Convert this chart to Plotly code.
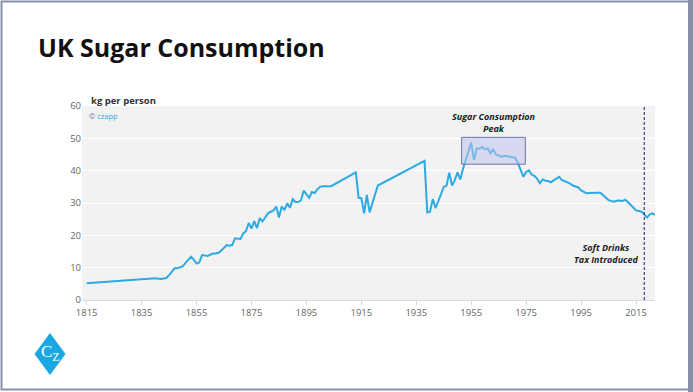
import plotly.graph_objects as go

years = [1815, 1840, 1842, 1844, 1845, 1847, 1848, 1850, 1851, 1852, 1853, 1854, 1855, 1856,
         1857, 1858, 1859, 1860, 1861, 1862, 1863, 1864, 1865, 1866, 1867, 1868, 1869, 1870,
         1871, 1872, 1873, 1874, 1875, 1876, 1877, 1878, 1879, 1880, 1881, 1882, 1883, 1884,
         1885, 1886, 1887, 1888, 1889, 1890, 1891, 1892, 1893, 1894, 1895, 1896, 1897, 1898,
         1899, 1900, 1901, 1904, 1913, 1914, 1915, 1916, 1917, 1918, 1921, 1938, 1939, 1940,
         1941, 1942, 1943, 1944, 1945, 1946, 1947, 1948, 1949, 1950, 1951, 1952, 1953, 1954,
         1955, 1956, 1957, 1958, 1959, 1960, 1961, 1962, 1963, 1964, 1965, 1966, 1967, 1968,
         1969, 1970, 1971, 1972, 1973, 1974, 1975, 1976, 1977, 1978, 1979, 1980, 1981, 1982,
         1983, 1984, 1985, 1986, 1987, 1988, 1989, 1990, 1991, 1992, 1993, 1994, 1995, 1996,
         1997, 1998, 1999, 2000, 2001, 2002, 2003, 2004, 2005, 2006, 2007, 2008, 2009, 2010,
         2011, 2012, 2013, 2014, 2015, 2016, 2017, 2018, 2019, 2020, 2021, 2022]
kg_per_person = [5.2, 6.7, 6.5, 6.8, 7.7, 9.8, 9.8, 10.5, 11.5, 12.3, 13.4, 12.5, 11.3, 11.6,
                 13.9, 13.8, 13.6, 14.0, 14.4, 14.4, 14.6, 15.3, 16.3, 17.0, 16.8, 17.0, 19.1, 19.0,
                 18.9, 20.6, 21.3, 23.8, 22.1, 24.4, 22.2, 25.3, 24.3, 25.5, 26.8, 27.3, 27.7, 28.9,
                 25.5, 28.9, 27.8, 29.9, 28.5, 31.2, 30.3, 30.3, 30.8, 33.8, 32.8, 31.6, 33.4, 33.1,
                 34.3, 35.0, 35.2, 35.2, 39.5, 31.6, 31.5, 26.8, 32.5, 27.1, 35.4, 43.0, 27.1, 27.3,
                 31.2, 28.4, 30.5, 32.5, 35.0, 35.3, 39.4, 35.4, 37.0, 39.5, 37.3, 40.5, 43.3, 46.0,
                 48.7, 43.3, 46.9, 46.8, 47.4, 46.5, 46.9, 45.4, 46.5, 45.0, 44.6, 44.3, 44.6, 44.5,
                 44.3, 44.1, 44.0, 42.3, 40.0, 38.1, 39.6, 40.1, 38.8, 38.4, 37.5, 36.1, 37.3, 36.9,
                 36.8, 36.4, 37.0, 37.6, 38.1, 37.1, 36.8, 36.4, 36.0, 35.4, 35.2, 34.8, 33.9, 33.5,
                 33.0, 33.1, 33.2, 33.2, 33.2, 33.2, 32.5, 31.6, 30.9, 30.6, 30.4, 30.7, 30.8, 30.6,
                 31.0, 30.3, 29.4, 28.5, 27.7, 27.5, 27.3, 26.5, 25.5, 26.5, 26.8, 26.3]

x_ticks = [1815, 1835, 1855, 1875, 1895, 1915, 1935, 1955, 1975, 1995, 2015]
y_ticks = [0, 10, 20, 30, 40, 50, 60]
peak_box_years = [1951.5, 1974.7]
peak_box_kg = [42.0, 50.3]
tax_year = 2018

W, H = 693, 392
L, R, T, B = 82, 655, 106, 300


def px(x):
    return (x - L) / (R - L)


def py(y):
    return (B - y) / (B - T)


fig = go.Figure()
fig.add_trace(go.Scatter(x=years, y=kg_per_person, mode="lines",
                         line=dict(color="#2eaae2", width=2), hoverinfo="skip"))

font_main = "Open Sans, Noto Sans, sans-serif"

shapes = [
    # frame
    dict(type="rect", xref="paper", yref="paper", x0=px(1.5), x1=px(689), y0=py(1.5), y1=py(389.5),
         line=dict(color="#8a8fa8", width=2), fillcolor="rgba(0,0,0,0)", layer="below"),
    dict(type="rect", xref="paper", yref="paper", x0=px(688), x1=px(693), y0=py(0), y1=py(392),
         line=dict(width=0), fillcolor="#8a8fa8"),
    # peak box
    dict(type="rect", xref="x", yref="y", x0=peak_box_years[0], x1=peak_box_years[1],
         y0=peak_box_kg[0], y1=peak_box_kg[1],
         line=dict(color="#6f74a8", width=1), fillcolor="rgba(190,194,235,0.55)"),
    # tax line
    dict(type="line", xref="x", yref="paper", x0=tax_year, x1=tax_year, y0=0, y1=1,
         line=dict(color="#3b3f80", width=1.2, dash="3px,2px")),
    # logo diamond
    dict(type="path", xref="paper", yref="paper",
         path=f"M {px(50)} {py(333)} L {px(65.5)} {py(354)} L {px(50)} {py(375)} L {px(34.5)} {py(354)} Z",
         fillcolor="#1ba7e1", line=dict(width=0)),
]

annotations = [
    dict(text="<b>UK Sugar Consumption</b>", xref="paper", yref="paper", x=px(36), y=py(47),
         xanchor="left", yanchor="middle", showarrow=False,
         font=dict(family=font_main, size=25, color="#111111")),
    dict(text="<b>kg per person</b>", xref="paper", yref="paper", x=px(89), y=py(100),
         xanchor="left", yanchor="middle", showarrow=False,
         font=dict(family=font_main, size=9.5, color="#333333")),
    dict(text="<span style='color:#6a6a9a'>©</span> czapp", xref="paper", yref="paper", x=px(87), y=py(116),
         xanchor="left", yanchor="middle", showarrow=False,
         font=dict(family=font_main, size=7.5, color="#2aa9e0")),
    dict(text="<b><i>Sugar Consumption<br>Peak</i></b>", xref="x", yref="paper",
         x=sum(peak_box_years) / 2, y=py(122), xanchor="center", yanchor="middle", showarrow=False,
         font=dict(family=font_main, size=9, color="#222222")),
    dict(text="<b><i>Soft Drinks<br>Tax Introduced</i></b>", xref="paper", yref="paper",
         x=px(606), y=py(253.5), xanchor="center", yanchor="middle", showarrow=False,
         font=dict(family=font_main, size=9, color="#222222")),
    dict(text="C<sub>Z</sub>", xref="paper", yref="paper", x=px(50.5), y=py(353), xanchor="center",
         yanchor="middle", showarrow=False,
         font=dict(family="Liberation Serif, serif", size=17, color="white")),
]

fig.update_layout(
    width=W, height=H,
    margin=dict(l=L, r=W - R, t=T, b=H - B),
    paper_bgcolor="white", plot_bgcolor="#f2f2f2",
    showlegend=False,
    shapes=shapes, annotations=annotations,
    font=dict(family=font_main, color="#555555", size=9.5),
    xaxis=dict(range=[1813.3, 2021.9], tickmode="array", tickvals=x_ticks,
               showgrid=False, zeroline=False, showline=True, linecolor="#d9d9d9",
               ticks="outside", ticklen=4, tickcolor="#d9d9d9",
               tickfont=dict(size=9.5, color="#666666")),
    yaxis=dict(range=[0, 60], tickmode="array", tickvals=y_ticks,
               showgrid=True, gridcolor="white", gridwidth=1, zeroline=False,
               showline=False, tickfont=dict(size=9.5, color="#666666")),
)

fig.write_html("out.html", config={"displayModeBar": False},
               post_script="document.body.style.margin='0';")
